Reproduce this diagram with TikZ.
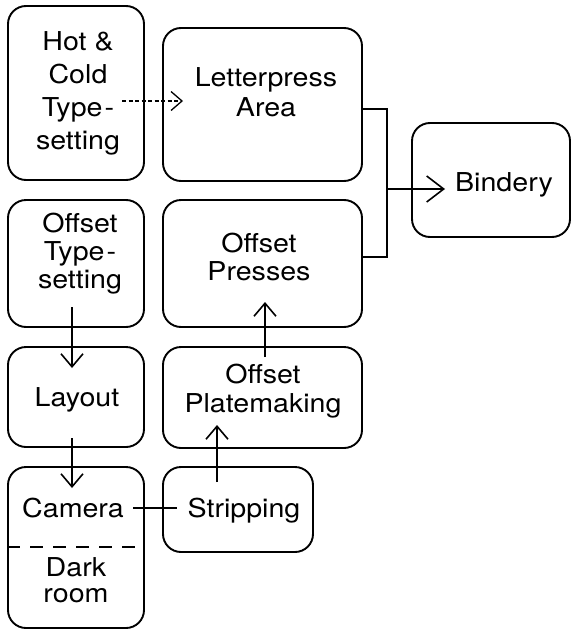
\documentclass[tikz,border=0pt]{standalone}
\usepackage{fontspec}
\setmainfont{TeX Gyre Heros}[FakeStretch=1.1]
\usetikzlibrary{arrows.meta}
\tikzset{
  box/.style={draw, line width=1.9pt, rounded corners=18pt, inner sep=0pt},
  txt/.style={inner sep=0pt, align=center},
  arr/.style={line width=1.6pt, -{Straight Barb[length=13pt,width=22pt,line width=1.6pt]}},
  bigarr/.style={line width=1.6pt, -{Straight Barb[length=17pt,width=26pt,line width=1.6pt]}},
  dasharr/.style={line width=1.3pt, dash pattern=on 4pt off 2.5pt, -{Straight Barb[length=11pt,width=19pt,line width=1.3pt]}},
  link/.style={line width=1.6pt},
  divider/.style={line width=1.6pt, dash pattern=on 13pt off 10pt}
}
\begin{document}
\begin{tikzpicture}[x=1pt,y=-1pt]
\useasboundingbox (0,0) rectangle (573,632);
% boxes
\node[box, minimum width=136pt, minimum height=174pt] (hot) at (76,93) {};
\node[box, minimum width=199pt, minimum height=153pt] (letter) at (262.5,104.5) {};
\node[box, minimum width=158pt, minimum height=114pt] (bind) at (491,180) {};
\node[box, minimum width=136pt, minimum height=127pt] (offtype) at (76,263.5) {};
\node[box, minimum width=199pt, minimum height=127pt] (presses) at (262.5,263.5) {};
\node[box, minimum width=136pt, minimum height=100pt] (layout) at (76,397) {};
\node[box, minimum width=199pt, minimum height=101pt] (plate) at (262.5,397.5) {};
\node[box, minimum width=136pt, minimum height=161pt] (camera) at (76,547.5) {};
\node[box, minimum width=150pt, minimum height=85pt] (strip) at (238,509.5) {};
% texts
\node[txt, font=\fontsize{26}{33}\selectfont] (hott) at (78,93) {Hot \&\\Cold\\Type\kern2pt-\\setting};
\node[txt, font=\fontsize{26}{30}\selectfont] (lettert) at (266,92.7) {Letterpress\\Area};
\node[txt, font=\fontsize{26}{30}\selectfont, anchor=base] (bindt) at (504,191) {Bindery};
\node[txt, font=\fontsize{26}{28}\selectfont] (offtypet) at (80,253.4) {Offset\\Type\kern2pt-\\setting};
\node[txt, font=\fontsize{26}{28}\selectfont] (pressest) at (259,256.7) {Offset\\Presses};
\node[txt, font=\fontsize{26}{30}\selectfont, anchor=base] (layoutt) at (77,406) {Layout};
\node[txt, font=\fontsize{26}{29}\selectfont] (platet) at (263,390.9) {Offset\\Platemaking};
\node[txt, font=\fontsize{26}{30}\selectfont, anchor=base] (camerat) at (73,517) {Camera};
\node[txt, font=\fontsize{26}{26}\selectfont] (darkt) at (76,580.7) {Dark\\room};
\node[txt, font=\fontsize{26}{30}\selectfont, anchor=base] (stript) at (244,517) {Stripping};
% divider in camera box
\draw[divider] (camera.west |- 0,547) -- (camera.east |- 0,547);
% connector coordinates
\coordinate (hotout) at (122,101);
\coordinate (letin) at (183,101);
\coordinate (bt) at (387,109);
\coordinate (bb) at (387,257);
\coordinate (bm) at (387,189);
\coordinate (bindin) at (445,189);
\coordinate (otout) at (72,307);
\coordinate (layin) at (72,368);
\coordinate (layout2) at (72,438);
\coordinate (camin) at (72,488);
\coordinate (stout) at (217,482);
\coordinate (plin) at (217,425);
\coordinate (plout) at (265,357);
\coordinate (prin) at (265,302);
\coordinate (camout) at (133,508);
\coordinate (stin) at (177,508);
% connectors
\draw[dasharr] (hotout) -- (letin);
\draw[link] (bt -| letter.east) -- (bt) -- (bb) -- (bb -| presses.east);
\draw[bigarr] (bm) -- (bindin);
\draw[arr] (otout) -- (layin);
\draw[arr] (layout2) -- (camin);
\draw[arr] (stout) -- (plin);
\draw[arr] (plout) -- (prin);
\draw[link] (camout) -- (stin);
\end{tikzpicture}
\end{document}
